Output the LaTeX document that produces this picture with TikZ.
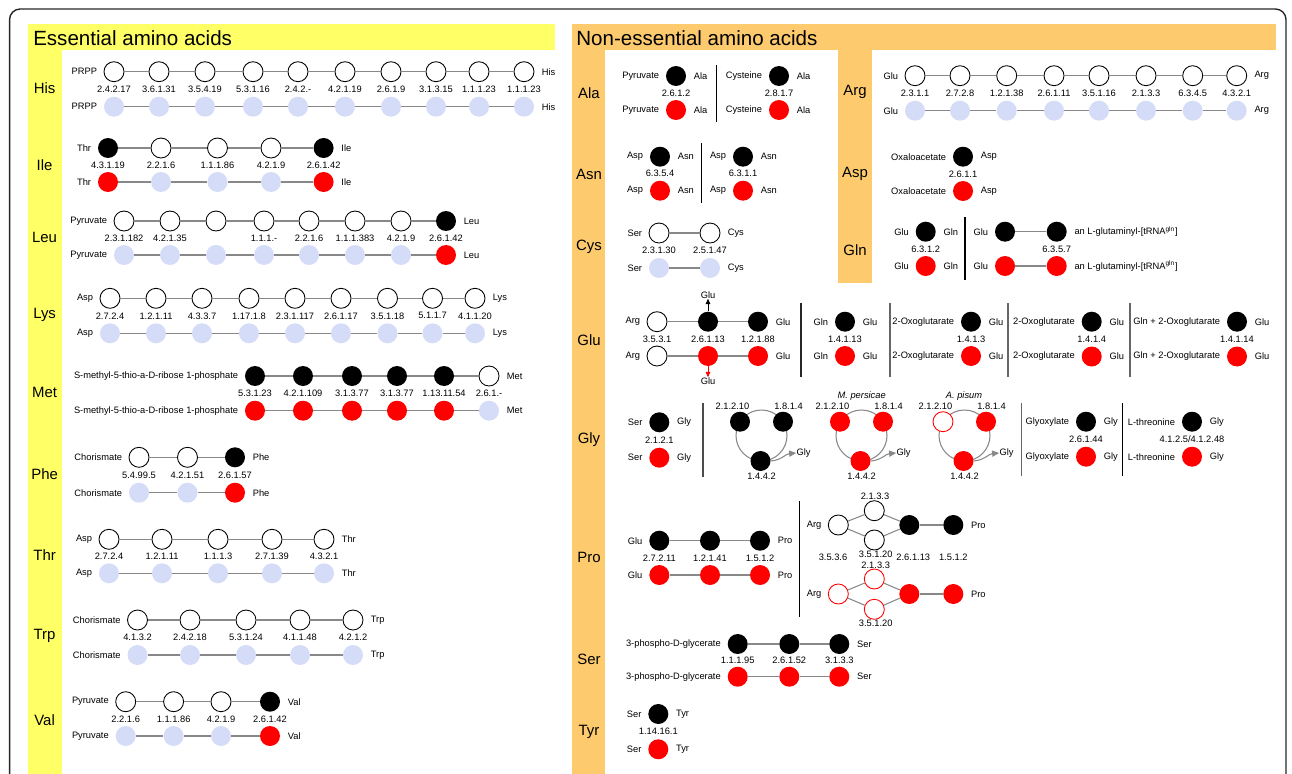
\documentclass[tikz,border=0pt]{standalone}
\usepackage{fontspec}
\setmainfont{Liberation Sans}
\usepackage{tikz}
\usetikzlibrary{positioning, calc}
\usetikzlibrary{arrows.meta}
\definecolor{essyel}{HTML}{FFFF66}
\definecolor{nonorg}{HTML}{FDCB6E}
\definecolor{lavblue}{HTML}{D5DCF8}
\definecolor{linkgray}{HTML}{888888}
\newcommand{\ecfont}{\fontsize{5.3}{6}\selectfont}
\newcommand{\aafont}{\fontsize{8.5}{10}\selectfont}
\newcommand{\headfont}{\fontsize{11.7}{14}\selectfont}
\tikzstyle{enz}=[circle,minimum size=4mm,inner sep=0pt,line width=0.5pt]
\tikzstyle{enzwhite}=[enz,draw=black,fill=white]
\tikzstyle{enzblack}=[enz,fill=black]
\tikzstyle{enzred}=[enz,fill=red]
\tikzstyle{enzblue}=[enz,fill=lavblue]
\tikzstyle{enzring}=[enz,draw=red,fill=white]
\tikzstyle{link}=[draw=linkgray,line width=0.6pt]
\tikzstyle{ecnum}=[font=\ecfont,inner sep=0pt]
\tikzstyle{metab}=[font=\ecfont,inner sep=0pt]
\tikzstyle{aalabel}=[font=\aafont,inner sep=0pt]
\tikzstyle{panelhead}=[font=\headfont,inner sep=0pt,anchor=west]
\tikzstyle{divider}=[line width=0.7pt]
\tikzstyle{ringline}=[draw=linkgray,line width=0.6pt]
\tikzstyle{ringarrow}=[draw=linkgray,line width=0.6pt,-{Triangle[length=4pt,width=3.5pt]}]
\tikzstyle{gluarrow}=[line width=0.5pt,-{Triangle[length=3pt,width=2.6pt]}]

% one pathway: name, y top, y bottom, start, product, count, x/top/bottom/EC
\newcommand{\enzrow}[7]{%
  \foreach \x/\t/\b/\e [count=\i] in {#7} {
    \node[\t] (#1t\i) at (\x,#2) {};
    \node[\b] (#1b\i) at (\x,#3) {};
    \node[ecnum] (#1e\i) at (\x,{(#2+#3)/2}) {\e};
    \ifnum\i>1
      \pgfmathtruncatemacro{\j}{\i-1}
      \draw[link] (#1t\j) -- (#1t\i);
      \draw[link] (#1b\j) -- (#1b\i);
    \fi
    \ifnum\i=1
      \node[metab, left=3.5pt of #1t\i] (#1lt) {#4};
      \node[metab, left=3.5pt of #1b\i] (#1lb) {#4};
    \fi
    \ifnum\i=#6
      \node[metab, right=4pt of #1t\i] (#1rt) {#5};
      \node[metab, right=4pt of #1b\i] (#1rb) {#5};
    \fi
  }%
}

\begin{document}
\begin{tikzpicture}[x=0.02cm,y=-0.02cm]
    \useasboundingbox (0,0) rectangle (1292,774);
    % panels
    \fill[essyel] (28,24) rectangle (555,50);
    \fill[essyel] (28,50) rectangle (62,774);
    \fill[nonorg] (572,24) rectangle (1276,50);
    \fill[nonorg] (572,50) rectangle (605,774);
    \fill[nonorg] (838,50) rectangle (872,283);
    \begin{scope}
        \clip (0,0) rectangle (1292,774);
        \draw[line width=0.8pt,rounded corners=6pt,black!85] (9.6,9) rectangle (1286,800);
    \end{scope}
    \node[panelhead] (esshead) at (32.9,38) {Essential amino acids};
    \node[panelhead] (nonhead) at (576,38.3) {Non-essential amino acids};

    % essential amino acids
    \node[aalabel] (aahis) at (44.6,88.3) {His};
    \node[aalabel] (aaile) at (44.6,165) {Ile};
    \node[aalabel] (aaleu) at (44.6,237.7) {Leu};
    \node[aalabel] (aalys) at (44.6,315) {Lys};
    \node[aalabel] (aamet) at (44.6,392.7) {Met};
    \node[aalabel] (aaphe) at (44.6,474.3) {Phe};
    \node[aalabel] (aathr) at (44.6,555) {Thr};
    \node[aalabel] (aatrp) at (44.6,636) {Trp};
    \node[aalabel] (aaval) at (44.6,720) {Val};

    \enzrow{his}{71.7}{106.7}{PRPP}{His}{10}{114/enzwhite/enzblue/2.4.2.17, 159/enzwhite/enzblue/3.6.1.31,
        205/enzwhite/enzblue/3.5.4.19, 253/enzwhite/enzblue/5.3.1.16, 298/enzwhite/enzblue/2.4.2.-,
        345/enzwhite/enzblue/4.2.1.19, 391/enzwhite/enzblue/2.6.1.9, 436/enzwhite/enzblue/3.1.3.15,
        479/enzwhite/enzblue/1.1.1.23, 524/enzwhite/enzblue/1.1.1.23}
    \enzrow{ile}{148}{182}{Thr}{Ile}{5}{108/enzblack/enzred/4.3.1.19, 161/enzwhite/enzblue/2.2.1.6,
        217.5/enzwhite/enzblue/1.1.1.86, 271/enzwhite/enzblue/4.2.1.9, 323.6/enzblack/enzred/2.6.1.42}
    \enzrow{leu}{221}{255}{Pyruvate}{Leu}{8}{124/enzwhite/enzblue/2.3.1.182, 170/enzwhite/enzblue/4.2.1.35,
        216/enzwhite/enzblue/{}, 264/enzwhite/enzblue/1.1.1.-, 309/enzwhite/enzblue/2.2.1.6,
        355/enzwhite/enzblue/1.1.1.383, 401/enzwhite/enzblue/4.2.1.9, 446/enzblack/enzred/2.6.1.42}
    \enzrow{lys}{298.3}{333.3}{Asp}{Lys}{9}{110/enzwhite/enzblue/2.7.2.4, 156/enzwhite/enzblue/1.2.1.11,
        202/enzwhite/enzblue/4.3.3.7, 249/enzwhite/enzblue/1.17.1.8, 295/enzwhite/enzblue/2.3.1.117,
        341/enzwhite/enzblue/2.6.1.17, 387.5/enzwhite/enzblue/3.5.1.18, 432.5/enzwhite/enzblue/5.1.1.7,
        475/enzwhite/enzblue/4.1.1.20}
    \enzrow{met}{376}{410.7}{S-methyl-5-thio-a-D-ribose 1-phosphate}{Met}{6}{255/enzblack/enzred/5.3.1.23,
        303/enzblack/enzred/4.2.1.109, 352/enzblack/enzred/3.1.3.77, 397/enzblack/enzred/3.1.3.77,
        444/enzblack/enzred/1.13.11.54, 489/enzwhite/enzblue/2.6.1.-}
    \enzrow{phe}{457.3}{492.7}{Chorismate}{Phe}{3}{139/enzwhite/enzblue/5.4.99.5,
        187.5/enzwhite/enzblue/4.2.1.51, 235/enzblack/enzred/2.6.1.57}
    \enzrow{thr}{539.3}{573.3}{Asp}{Thr}{5}{109/enzwhite/enzblue/2.7.2.4, 162/enzwhite/enzblue/1.2.1.11,
        218/enzwhite/enzblue/1.1.1.3, 272/enzwhite/enzblue/2.7.1.39, 324/enzwhite/enzblue/4.3.2.1}
    \enzrow{trp}{620}{655}{Chorismate}{Trp}{5}{137.5/enzwhite/enzblue/4.1.3.2, 190/enzwhite/enzblue/2.4.2.18,
        246/enzwhite/enzblue/5.3.1.24, 300/enzwhite/enzblue/4.1.1.48, 353/enzwhite/enzblue/4.2.1.2}
    \enzrow{val}{701.7}{736}{Pyruvate}{Val}{4}{125.7/enzwhite/enzblue/2.2.1.6, 173.6/enzwhite/enzblue/1.1.1.86,
        221/enzwhite/enzblue/4.2.1.9, 270/enzblack/enzred/2.6.1.42}

    % non-essential amino acids
    \node[aalabel] (aaala) at (589,93) {Ala};
    \node[aalabel] (aaasn) at (589,174) {Asn};
    \node[aalabel] (aacys) at (589,246.7) {Cys};
    \node[aalabel] (aaglu) at (589,340) {Glu};
    \node[aalabel] (aagly) at (589,440) {Gly};
    \node[aalabel] (aapro) at (589,557.7) {Pro};
    \node[aalabel] (aaser) at (589,659) {Ser};
    \node[aalabel] (aatyr) at (589,732.3) {Tyr};
    \node[aalabel] (aaarg) at (855,91.7) {Arg};
    \node[aalabel] (aaasp) at (855,174) {Asp};
    \node[aalabel] (aagln) at (855,250) {Gln};

    \enzrow{alaa}{76}{110}{Pyruvate}{Ala}{1}{676/enzblack/enzred/2.6.1.2}
    \enzrow{alab}{76}{110}{Cysteine}{Ala}{1}{779/enzblack/enzred/2.8.1.7}
    \draw[divider] (716.7,65) -- (716.7,121.7);
    \enzrow{asna}{156.7}{190.7}{Asp}{Asn}{1}{660/enzblack/enzred/6.3.5.4}
    \enzrow{asnb}{156.7}{190.7}{Asp}{Asn}{1}{743/enzblack/enzred/6.3.1.1}
    \draw[divider] (701.7,143) -- (701.7,203);
    \enzrow{cys}{233}{268}{Ser}{Cys}{2}{659/enzwhite/enzblue/2.3.1.30, 710/enzwhite/enzblue/2.5.1.47}

    \enzrow{arg}{75.7}{110.7}{Glu}{Arg}{8}{915/enzwhite/enzblue/2.3.1.1, 960/enzwhite/enzblue/2.7.2.8,
        1006.7/enzwhite/enzblue/1.2.1.38, 1054/enzwhite/enzblue/2.6.1.11, 1099/enzwhite/enzblue/3.5.1.16,
        1146/enzwhite/enzblue/2.1.3.3, 1192.7/enzwhite/enzblue/6.3.4.5, 1236.7/enzwhite/enzblue/4.3.2.1}
    \enzrow{asp}{156.7}{191}{Oxaloacetate}{Asp}{1}{963/enzblack/enzred/2.6.1.1}
    \enzrow{glna}{231.7}{266}{Glu}{Gln}{1}{925.7/enzblack/enzred/6.3.1.2}
    \draw[divider] (965,216.7) -- (965,280);
    \enzrow{glnb}{231.7}{266}{Glu}{an L-glutaminyl-[tRNA\textsuperscript{gln}]}{2}{1005/enzblack/enzred/{},
        1056.7/enzblack/enzred/6.3.5.7}

    % Glu
    \enzrow{glua}{321.7}{356}{Arg}{Glu}{3}{657/enzwhite/enzwhite/3.5.3.1, 708/enzblack/enzred/2.6.1.13,
        758/enzblack/enzred/1.2.1.88}
    \node[metab] (gluup) at (708,295) {Glu};
    \node[metab] (gludn) at (708,381) {Glu};
    \draw[gluarrow] (gluat2) -- (gluup);
    \draw[gluarrow,red] (gluab2) -- (gludn);
    \draw[divider,black!85] (801,303) -- (801,377);
    \enzrow{glub}{321.7}{356}{Gln}{Glu}{1}{845/enzblack/enzred/1.4.1.13}
    \draw[divider,black!60] (890,303) -- (890,377);
    \enzrow{gluc}{321.7}{356}{2-Oxoglutarate}{Glu}{1}{971/enzblack/enzred/1.4.1.3}
    \draw[divider,black!60] (1008,303) -- (1008,377);
    \enzrow{glud}{321.7}{356.5}{2-Oxoglutarate}{Glu}{1}{1091.7/enzblack/enzred/1.4.1.4}
    \draw[divider,black!60] (1130,303) -- (1130,377);
    \enzrow{glue}{321.7}{356.5}{Gln + 2-Oxoglutarate}{Glu}{1}{1237/enzblack/enzred/1.4.1.14}

    % Gly
    \enzrow{glya}{422.3}{457.7}{Ser}{Gly}{1}{659.3/enzblack/enzred/2.1.2.1}
    \draw[divider,black!70] (703,403) -- (703,476.7);
    \foreach \cx/\nm/\sa/\sb/\sc in {761.5/gca/enzblack/enzblack/enzblack,
        861.5/gcb/enzred/enzred/enzred, 964.5/gcc/enzring/enzred/enzred} {
        \draw[ringline] (\cx,435.5) circle[radius=5.1mm];
        \node[\sa] (\nm1) at (\cx-21.5,421.7) {};
        \node[\sb] (\nm2) at (\cx+21.5,421.7) {};
        \node[\sc] (\nm3) at (\cx-1,461) {};
        \node[ecnum] (\nm e1) at (\cx-29,406) {2.1.2.10};
        \node[ecnum] (\nm e2) at (\cx+27,406) {1.8.1.4};
        \node[ecnum] (\nm e3) at (\cx,476) {1.4.4.2};
        \node[metab] (\nm g) at (\cx+42,453) {Gly};
        \draw[ringarrow] (\nm3.east) to[out=5,in=185] (\nm g.west);
    }
    \node[metab,font=\ecfont\itshape] (mpers) at (861.7,396) {M. persicae};
    \node[metab,font=\ecfont\itshape] (apis) at (964,396) {A. pisum};
    \draw[divider,black!60] (1021.7,403) -- (1021.7,476);
    \enzrow{glyb}{421.7}{456.7}{Glyoxylate}{Gly}{1}{1086/enzblack/enzred/2.6.1.44}
    \draw[divider] (1122.3,403) -- (1122.3,476);
    \enzrow{glyc}{421.7}{456.7}{L-threonine}{Gly}{1}{1192/enzblack/enzred/{4.1.2.5/4.1.2.48}}

    % Pro
    \enzrow{pro}{540.7}{575}{Glu}{Pro}{3}{659.3/enzblack/enzred/2.7.2.11, 710/enzblack/enzred/1.2.1.41,
        760/enzblack/enzred/1.5.1.2}
    \draw[divider] (799.3,501) -- (799.3,616.7);
    \node[enzwhite] (prxa) at (838.3,525) {};
    \node[enzwhite] (prxu) at (874.3,510.7) {};
    \node[enzwhite] (prxl) at (874.3,540) {};
    \node[enzblack] (prxk) at (909.3,525) {};
    \node[enzblack] (prxp) at (953.3,525) {};
    \node[metab, left=3.5pt of prxa] (prxarg) {Arg};
    \node[metab, right=4pt of prxp] (prxpro) {Pro};
    \draw[link] (prxa) -- (prxu);
    \draw[link] (prxa) -- (prxl);
    \draw[link] (prxu) -- (prxk);
    \draw[link] (prxl) -- (prxk);
    \draw[link] (prxk) -- (prxp);
    \node[ecnum] (prxe1) at (875,496) {2.1.3.3};
    \node[ecnum] (prxe2) at (833,557.7) {3.5.3.6};
    \node[ecnum] (prxe3) at (875.7,554.3) {3.5.1.20};
    \node[ecnum] (prxe4) at (913.3,557.7) {2.6.1.13};
    \node[ecnum] (prxe5) at (953.3,557.7) {1.5.1.2};
    \node[enzring] (prya) at (838.3,594) {};
    \node[enzring] (pryu) at (874.3,579) {};
    \node[enzring] (pryl) at (874.3,609.3) {};
    \node[enzred] (pryk) at (909.3,594) {};
    \node[enzred] (pryp) at (953.3,594) {};
    \node[metab, left=3.5pt of prya] (pryarg) {Arg};
    \node[metab, right=4pt of pryp] (prypro) {Pro};
    \draw[link] (prya) -- (pryu);
    \draw[link] (prya) -- (pryl);
    \draw[link] (pryu) -- (pryk);
    \draw[link] (pryl) -- (pryk);
    \draw[link] (pryk) -- (pryp);
    \node[ecnum] (prye1) at (875.7,565) {2.1.3.3};
    \node[ecnum] (prye2) at (875.7,623.3) {3.5.1.20};

    % Ser, Tyr
    \enzrow{ser}{644}{676.7}{3-phospho-D-glycerate}{Ser}{3}{737.7/enzblack/enzred/1.1.1.95,
        789.3/enzblack/enzred/2.6.1.52, 839.3/enzblack/enzred/3.1.3.3}
    \enzrow{tyr}{714}{749.3}{Ser}{Tyr}{1}{658.3/enzblack/enzred/1.14.16.1}
\end{tikzpicture}
\end{document}
